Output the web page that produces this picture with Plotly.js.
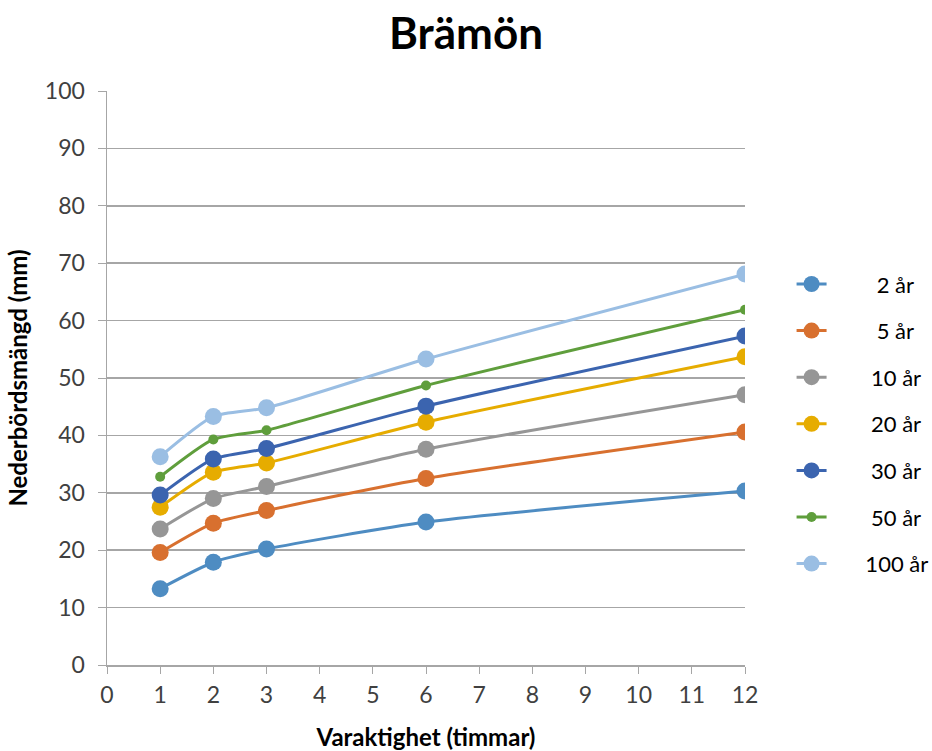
<!DOCTYPE html>
<html><head><meta charset="utf-8">
<script src="https://cdn.plot.ly/plotly-3.0.1.min.js"></script>
<style>html,body{margin:0;padding:0;background:#fff}#chart{width:932px;height:751px}</style>
</head><body><div id="chart"></div>
<script>
const durations = [1, 2, 3, 6, 12];
const seriesLabels = ["2 år", "5 år", "10 år", "20 år", "30 år", "50 år", "100 år"];
const y2 = [13.3, 17.9, 20.2, 24.9, 30.3];
const y5 = [19.6, 24.7, 26.9, 32.5, 40.6];
const y10 = [23.7, 29.0, 31.1, 37.6, 47.1];
const y20 = [27.5, 33.6, 35.2, 42.3, 53.7];
const y30 = [29.6, 35.9, 37.7, 45.1, 57.3];
const y50 = [32.8, 39.3, 40.9, 48.7, 61.9];
const y100 = [36.3, 43.3, 44.8, 53.3, 68.1];
const seriesValues = [y2, y5, y10, y20, y30, y50, y100];
const colors = ["#4E8CC2", "#D8702F", "#969696", "#E6AC00", "#3B64AF", "#5F9E3C", "#9ABEE3"];
const markerSizes = [17, 17, 17, 17, 17, 10, 17];
const font = "Lato, 'Open Sans', sans-serif";

// centre legend labels by padding with non-breaking spaces
function padLabel(s) {
  const digits = s.split(" ")[0].length;
  const n = digits === 1 ? 8 : (digits === 2 ? 7 : 6);
  return "\u00A0".repeat(n) + s;
}

const traces = seriesLabels.map((name, i) => ({
  x: durations, y: seriesValues[i], name: padLabel(name), type: "scatter", mode: "lines+markers",
  legendgroup: "g" + i,
  line: {color: colors[i], width: 3, shape: "spline", smoothing: 0.6},
  marker: {color: colors[i], size: markerSizes[i]}
}));

const layout = {
  width: 932, height: 751,
  margin: {l: 107, r: 187, t: 91, b: 86, autoexpand: false},
  paper_bgcolor: "#fff", plot_bgcolor: "#fff",
  font: {family: font, color: "#404040", size: 23},
  title: {text: "<b>Brämön</b>", x: 0.5, xanchor: "center", xref: "container", y: 0.955, yanchor: "middle",
    font: {family: font, size: 44, color: "#000"}},
  xaxis: {range: [0, 12], dtick: 1, tick0: 0, showgrid: false, zeroline: false,
    showline: true, linecolor: "#A6A6A6", linewidth: 1.5,
    ticks: "outside", ticklen: 7, tickcolor: "#A6A6A6",
    tickfont: {size: 23, color: "#404040"}, ticklabelstandoff: 2,
    title: {text: "<b>Varaktighet (timmar)</b>", font: {size: 24, color: "#000"}, standoff: 24}},
  yaxis: {range: [0, 100], dtick: 10, tick0: 0, showgrid: true, gridcolor: "#A6A6A6", gridwidth: 1.5,
    zeroline: false, showline: true, linecolor: "#A6A6A6", linewidth: 1.5,
    ticks: "outside", ticklen: 8, tickcolor: "#A6A6A6",
    tickfont: {size: 23, color: "#404040"}, ticklabelstandoff: 8,
    title: {text: "<b>Nederbördsmängd (mm)</b>", font: {size: 24, color: "#000"}, standoff: 10}},
  legend: {x: 1.073, xanchor: "left", y: 0.70, yanchor: "top", font: {size: 22, color: "#000"},
    tracegroupgap: 15, bgcolor: "rgba(0,0,0,0)"},
  showlegend: true
};
Plotly.newPlot("chart", traces, layout, {displayModeBar: false, staticPlot: true});
</script></body></html>
